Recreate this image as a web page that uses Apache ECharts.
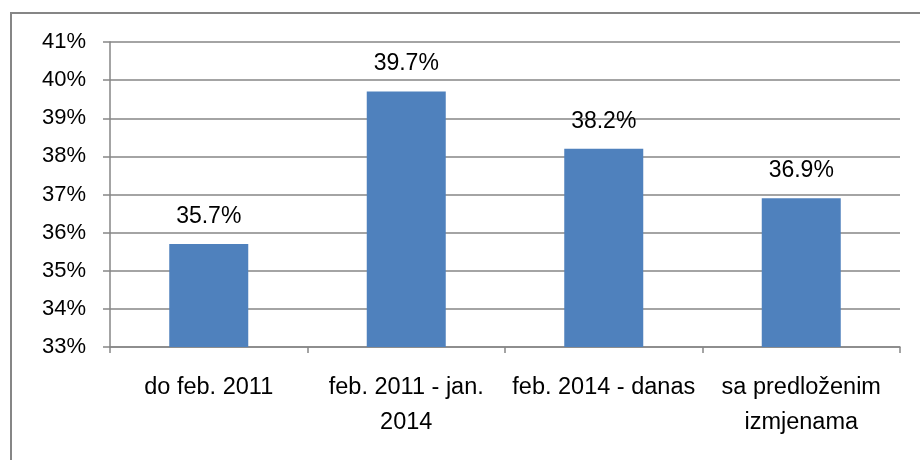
<!DOCTYPE html>
<html>
<head>
<meta charset="utf-8">
<script src="https://cdn.jsdelivr.net/npm/echarts@6/dist/echarts.min.js"></script>
<style>html,body{margin:0;padding:0;background:#fff}#c{width:920px;height:460px}</style>
</head>
<body>
<div id="c"></div>
<script>
var categories = ['do feb. 2011', 'feb. 2011 - jan.\n2014', 'feb. 2014 - danas', 'sa predloženim\nizmjenama'];
var values = [35.7, 39.7, 38.2, 36.9];
var yMin = 33, yMax = 41, yStep = 1;

var chart = echarts.init(document.getElementById('c'), null, {renderer: 'canvas'});
var font = 'Liberation Sans, Arial, sans-serif';
chart.setOption({
  animation: false,
  backgroundColor: '#ffffff',
  graphic: [{
    type: 'rect', shape: {x: 11, y: 13, width: 1000, height: 1000},
    style: {fill: 'none', stroke: '#868686', lineWidth: 2}, silent: true
  }],
  grid: {left: 110, right: 20, top: 42, bottom: 113, containLabel: false},
  xAxis: {
    type: 'category', data: categories,
    axisLine: {lineStyle: {color: '#868686', width: 1.5}},
    axisTick: {show: true, length: 6, lineStyle: {color: '#868686', width: 1.5}},
    axisLabel: {color: '#000', fontFamily: font, fontSize: 23.5, margin: 23, lineHeight: 35, interval: 0}
  },
  yAxis: {
    type: 'value', min: yMin, max: yMax, interval: yStep,
    axisLine: {show: true, lineStyle: {color: '#868686', width: 1.5}},
    axisTick: {show: true, length: 7, lineStyle: {color: '#868686', width: 1.5}},
    splitLine: {show: true, lineStyle: {color: '#868686', width: 1.5}},
    axisLabel: {color: '#000', fontFamily: font, fontSize: 22, margin: 24, formatter: function (v) { return v + '%'; }}
  },
  series: [{
    type: 'bar', data: values, barWidth: '40%',
    itemStyle: {color: '#4F81BD'},
    label: {show: true, position: 'top', distance: 16, color: '#000', fontFamily: font, fontSize: 23,
      formatter: function (p) { return p.value.toFixed(1) + '%'; }}
  }]
});
</script>
</body>
</html>
